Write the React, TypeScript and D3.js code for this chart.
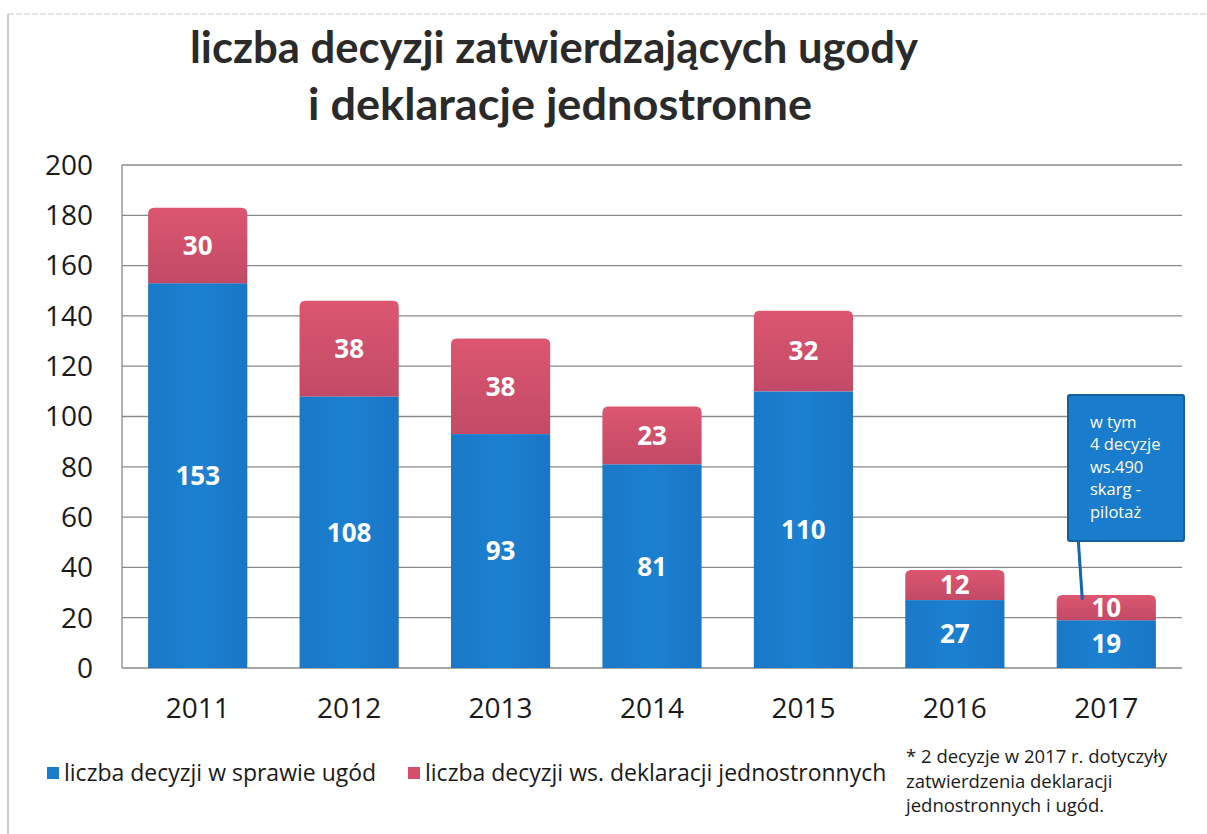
import React from 'react';
import * as d3 from 'd3';

const years = ['2011', '2012', '2013', '2014', '2015', '2016', '2017'];
const ugody = [153, 108, 93, 81, 110, 27, 19];
const deklaracje = [30, 38, 38, 23, 32, 12, 10];
const yTicks = [0, 20, 40, 60, 80, 100, 120, 140, 160, 180, 200];
const seriesNames = ['liczba decyzji w sprawie ugód', 'liczba decyzji ws. deklaracji jednostronnych'];
const titleLines = ['liczba decyzji zatwierdzających ugody', 'i deklaracje jednostronne'];
const calloutLines = ['w tym', '4 decyzje', 'ws.490', 'skarg -', 'pilotaż'];
const footnoteLines = ['* 2 decyzje w 2017 r. dotyczyły', 'zatwierdzenia deklaracji', 'jednostronnych i ugód.'];
const calloutYear = '2017';

const W = 1207;
const H = 834;
const plot = { left: 122, right: 1182, top: 165, bottom: 668 };
const FONT = "'Open Sans', 'Noto Sans', sans-serif";
const BLUE = '#1a7ccc';
const RED = '#d64f6a';

function roundedTop(x: number, y: number, w: number, h: number, r: number) {
  const rr = Math.min(r, h, w / 2);
  return `M${x},${y + h}V${y + rr}Q${x},${y} ${x + rr},${y}H${x + w - rr}Q${x + w},${y} ${x + w},${y + rr}V${y + h}Z`;
}

export default function App() {
  const x = d3.scaleBand<string>().domain(years).range([plot.left, plot.right]).paddingInner(0.345).paddingOuter(0.1725);
  const y = d3.scaleLinear().domain([0, 200]).range([plot.bottom, plot.top]);
  const bw = x.bandwidth();

  const ci = years.indexOf(calloutYear);
  const cx = (x(calloutYear) as number) + bw / 2;

  return (
    <svg width={W} height={H} style={{ position: 'absolute', left: 0, top: 0, background: '#fff' }} fontFamily={FONT}>
      <defs>
        <linearGradient id="redGrad" x1="0" y1="0" x2="0" y2="1">
          <stop offset="0" stopColor="#dc5670" />
          <stop offset="1" stopColor="#c24a66" />
        </linearGradient>
        <linearGradient id="blueGrad" x1="0" y1="0" x2="1" y2="0">
          <stop offset="0" stopColor="#1a78c8" />
          <stop offset="0.5" stopColor="#1c80d0" />
          <stop offset="1" stopColor="#1a76c6" />
        </linearGradient>
      </defs>
      <rect x={0} y={0} width={W} height={H} fill="#fff" />
      {/* page frame */}
      <line x1={8} x2={8} y1={14} y2={H} stroke="#b8b8b8" strokeWidth={1.5} />
      <line x1={8} x2={W} y1={14} y2={14} stroke="#c8c8c8" strokeWidth={1} strokeDasharray="6 2" />

      {/* title */}
      {titleLines.map((t, i) => (
        <text key={t} x={i === 0 ? 554 : 560} y={i === 0 ? 63 : 120} textAnchor="middle" fontSize={44} fontWeight={700}
          fill="#2a2a2a" textLength={i === 0 ? 728 : 504} lengthAdjust="spacingAndGlyphs" fontFamily="Lato, 'Open Sans', sans-serif">
          {t}
        </text>
      ))}

      {/* gridlines */}
      {yTicks.map((t) => (
        <line key={t} x1={plot.left} x2={plot.right} y1={y(t)} y2={y(t)} stroke="#8a8a8a" strokeWidth={1.3} />
      ))}
      <line x1={plot.left} x2={plot.left} y1={plot.top} y2={plot.bottom} stroke="#8a8a8a" strokeWidth={1.3} />

      {/* y tick labels */}
      {yTicks.map((t) => (
        <text key={t} x={93} y={y(t)} dy="0.35em" textAnchor="end" fontSize={28} fill="#1a1a1a">{t}</text>
      ))}

      {/* bars */}
      {years.map((yr, i) => {
        const bx = x(yr) as number;
        const b0 = y(0), b1 = y(ugody[i]), r1 = y(ugody[i] + deklaracje[i]);
        return (
          <g key={yr}>
            <rect x={bx} y={b1} width={bw} height={b0 - b1} fill="url(#blueGrad)" />
            <path d={roundedTop(bx, r1, bw, b1 - r1, 6)} fill="url(#redGrad)" />
            <text x={bx + bw / 2} y={y(ugody[i] / 2)} dy="0.36em" textAnchor="middle" fontSize={26} fontWeight={700} fill="#fff">{ugody[i]}</text>
            <text x={bx + bw / 2} y={y(ugody[i] + deklaracje[i] / 2)} dy="0.36em" textAnchor="middle" fontSize={26} fontWeight={700} fill="#fff">{deklaracje[i]}</text>
            <text x={bx + bw / 2} y={708} dy="0.35em" textAnchor="middle" fontSize={28} fill="#1a1a1a">{yr}</text>
          </g>
        );
      })}

      {/* callout */}
      <g>
        <line x1={cx - 28} y1={540} x2={cx - 24} y2={y(ugody[ci] + deklaracje[ci] / 2) - 8} stroke="#1466b0" strokeWidth={3} />
        <rect x={1068} y={395} width={116} height={146} fill="#1a7ccc" stroke="#14609f" strokeWidth={2} rx={2} />
        {calloutLines.map((t, i) => (
          <text key={t} x={1090} y={422 + i * 22.5} dy="0.35em" fontSize={16.5} fill="#fff">{t}</text>
        ))}
      </g>

      {/* legend */}
      <g fontSize={23} fill="#1a1a1a">
        <rect x={47} y={767} width={12} height={12} fill={BLUE} />
        <text x={64} y={773} dy="0.35em">{seriesNames[0]}</text>
        <rect x={408} y={767} width={12} height={12} fill={RED} />
        <text x={425} y={773} dy="0.35em">{seriesNames[1]}</text>
      </g>

      {/* footnote */}
      {footnoteLines.map((t, i) => (
        <text key={t} x={906} y={757 + i * 24.5} dy="0.35em" fontSize={18.5} fill="#1a1a1a">{t}</text>
      ))}
    </svg>
  );
}
